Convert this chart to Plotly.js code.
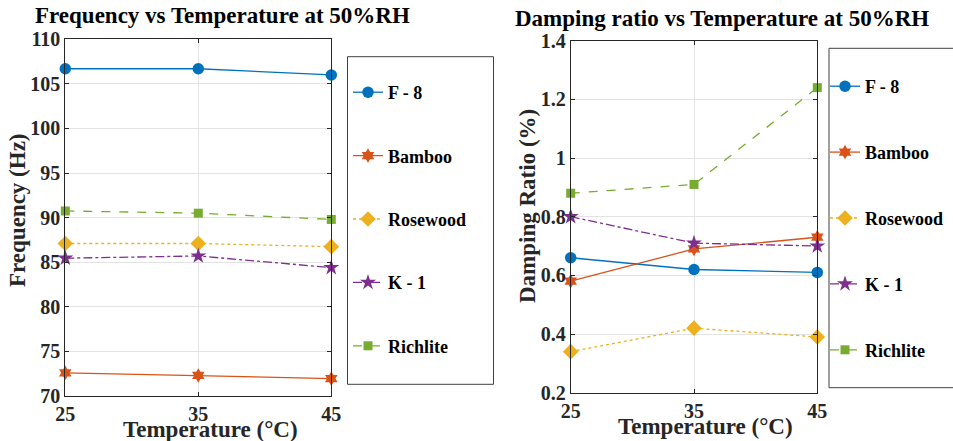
<!DOCTYPE html>
<html>
<head>
<meta charset="utf-8">
<script src="https://cdn.plot.ly/plotly-3.0.1.min.js"></script>
<style>html,body{margin:0;padding:0;background:#fff;}#chart{width:953px;height:441px;}</style>
</head>
<body>
<div id="chart"></div>
<script>
// ---- data ----
const temperatures = [25, 35, 45];
const seriesNames = ["F - 8", "Bamboo", "Rosewood", "K - 1", "Richlite"];
// Frequency (Hz)
const freqF8 = [106.7, 106.7, 106.0];
const freqBamboo = [72.6, 72.3, 71.95];
const freqRosewood = [87.1, 87.1, 86.75];
const freqK1 = [85.45, 85.7, 84.4];
const freqRichlite = [90.75, 90.5, 89.8];
// Damping ratio (%)
const dampF8 = [0.66, 0.62, 0.61];
const dampBamboo = [0.58, 0.69, 0.73];
const dampRosewood = [0.34, 0.42, 0.39];
const dampK1 = [0.80, 0.71, 0.70];
const dampRichlite = [0.88, 0.91, 1.24];
const xTicks = [25, 35, 45];
const titleLeft = "Frequency vs Temperature at 50%RH";
const titleRight = "Damping ratio vs Temperature at 50%RH";
const xTitle = "Temperature (°C)";
const yTitleLeft = "Frequency (Hz)";
const yTitleRight = "Damping Ratio (%)";

// ---- styles ----
const W = 953, H = 441;
const px = x => x / W;
const py = y => 1 - y / H;
const FONT = "Liberation Serif";
const styles = [
  {color: "#0072BD", dash: "solid", symbol: "circle", size: 11.5},
  {color: "#D95319", dash: "solid", symbol: "hexagram", size: 11},
  {color: "#EDB120", dash: "dot", symbol: "diamond", size: 12},
  {color: "#7E2F8E", dash: "dashdot", symbol: "star", size: 12},
  {color: "#77AC30", dash: "dash", symbol: "square", size: 9}
];

const freqData = [freqF8, freqBamboo, freqRosewood, freqK1, freqRichlite];
const dampData = [dampF8, dampBamboo, dampRosewood, dampK1, dampRichlite];

const traces = [];
function addTraces(data, xa, ya, leg, grp) {
  data.forEach((ys, i) => {
    const s = styles[i];
    traces.push({
      type: "scatter", mode: "lines+markers",
      x: temperatures, y: ys, name: seriesNames[i],
      xaxis: xa, yaxis: ya, legend: leg,
      legendgroup: grp + i,
      cliponaxis: false,
      line: {color: s.color, width: 1.3, dash: s.dash},
      marker: {color: s.color, symbol: s.symbol, size: s.size, line: {width: 0}}
    });
  });
}
addTraces(freqData, "x", "y", "legend", "f");
addTraces(dampData, "x2", "y2", "legend2", "d");

const axisCommon = {
  showline: true, linecolor: "#262626", linewidth: 1, mirror: "ticks",
  ticks: "inside", ticklen: 4, tickcolor: "#262626",
  showgrid: true, gridcolor: "#e3e3e3", gridwidth: 1, zeroline: false,
  tickfont: {family: FONT, size: 20, color: "#262626", weight: "bold"},
  fixedrange: true
};
const bold23 = {family: FONT, size: 23, color: "#262626", weight: "bold"};
const legendFont = {family: FONT, size: 18, color: "#000", weight: "bold"};

function ann(text, x, y, angle, color) {
  return {text: text, xref: "paper", yref: "paper", x: px(x), y: py(y),
    xanchor: "center", yanchor: "middle", showarrow: false, textangle: angle || 0,
    font: Object.assign({}, bold23, {color: color || "#262626"})};
}

const layout = {
  width: W, height: H,
  margin: {l: 0, r: 0, t: 0, b: 0},
  paper_bgcolor: "#fff", plot_bgcolor: "#fff",
  font: {family: FONT, color: "#262626"},
  showlegend: true,
  xaxis: Object.assign({}, axisCommon, {
    domain: [px(65.3), px(331.3)], range: [25, 45], tickvals: xTicks, anchor: "y"
  }),
  yaxis: Object.assign({}, axisCommon, {
    domain: [py(396), py(39.3)], range: [70, 110], dtick: 5, anchor: "x"
  }),
  xaxis2: Object.assign({}, axisCommon, {
    domain: [px(570.7), px(817.3)], range: [25, 45], tickvals: xTicks, anchor: "y2"
  }),
  yaxis2: Object.assign({}, axisCommon, {
    domain: [py(392.7), py(40.7)], range: [0.2, 1.4], dtick: 0.2, anchor: "x2"
  }),
  legend: {
    x: px(348), y: py(74), xanchor: "left", yanchor: "top",
    bgcolor: "rgba(0,0,0,0)", borderwidth: 0,
    traceorder: "grouped", tracegroupgap: 37,
    font: legendFont
  },
  legend2: {
    x: px(825), y: py(68), xanchor: "left", yanchor: "top",
    bgcolor: "rgba(0,0,0,0)", borderwidth: 0,
    traceorder: "grouped", tracegroupgap: 39.5,
    font: legendFont
  },
  shapes: [
    {type: "rect", xref: "paper", yref: "paper", x0: px(347.5), x1: px(493.5), y0: py(384.3), y1: py(56.7),
     line: {color: "#404040", width: 1}, fillcolor: "rgba(0,0,0,0)"},
    {type: "rect", xref: "paper", yref: "paper", x0: px(829), x1: px(965), y0: py(387.7), y1: py(48.3),
     line: {color: "#404040", width: 1}, fillcolor: "rgba(0,0,0,0)"}
  ],
  annotations: [
    ann(titleLeft, 222, 15, 0, "#000"),
    ann(titleRight, 722, 19, 0, "#000"),
    ann(xTitle, 210.5, 429.5, 0),
    ann(xTitle, 705, 426, 0),
    ann(yTitleLeft, 17, 210, -90),
    ann(yTitleRight, 528, 206, -90)
  ]
};

Plotly.newPlot("chart", traces, layout, {displayModeBar: false, staticPlot: true});
</script>
</body>
</html>
